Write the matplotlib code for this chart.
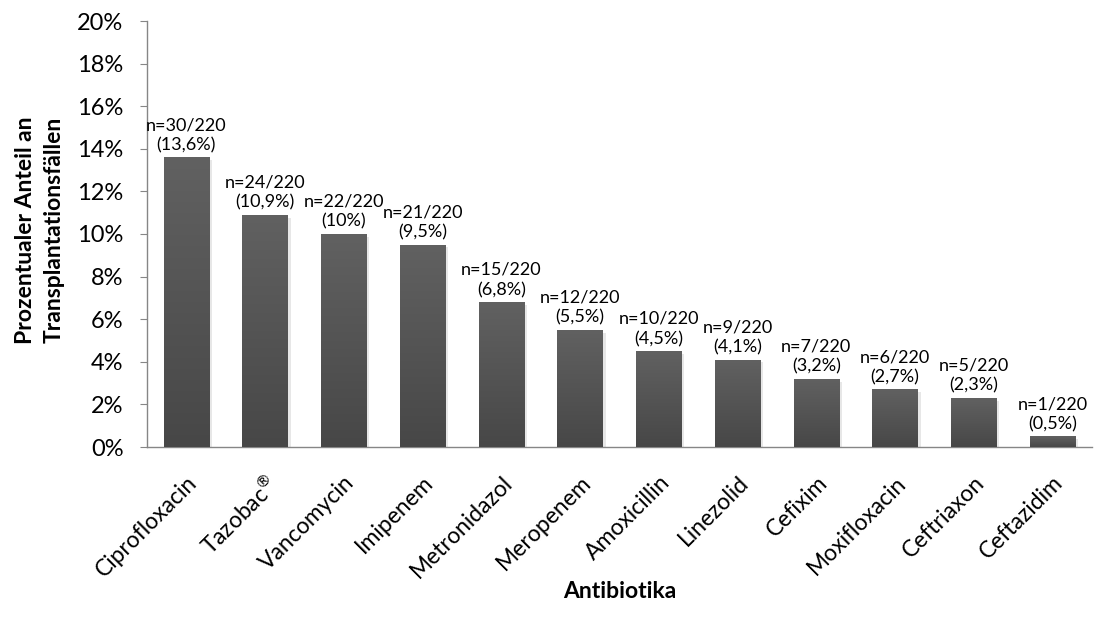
import matplotlib
matplotlib.use("Agg")
import matplotlib.pyplot as plt
import numpy as np
from matplotlib import patheffects
from matplotlib.ticker import FuncFormatter, MultipleLocator

plt.rcParams['font.family'] = ['Lato', 'DejaVu Sans']
plt.rcParams['mathtext.fontset'] = 'custom'
plt.rcParams['mathtext.rm'] = 'Lato'

antibiotics = ["Ciprofloxacin", "Tazobac$^{\\mathrm{®}}$", "Vancomycin", "Imipenem", "Metronidazol",
               "Meropenem", "Amoxicillin", "Linezolid", "Cefixim", "Moxifloxacin",
               "Ceftriaxon", "Ceftazidim"]
counts = [30, 24, 22, 21, 15, 12, 10, 9, 7, 6, 5, 1]
total = 220
percent = [13.6, 10.9, 10.0, 9.5, 6.8, 5.5, 4.5, 4.1, 3.2, 2.7, 2.3, 0.5]
percent_labels = ["13,6%", "10,9%", "10%", "9,5%", "6,8%", "5,5%", "4,5%", "4,1%",
                  "3,2%", "2,7%", "2,3%", "0,5%"]

fig = plt.figure(figsize=(10.97, 6.29), dpi=100)
ax = fig.add_axes([147 / 1097, 1 - 447 / 629, (1092 - 147) / 1097, (447 - 21) / 629])

x = np.arange(len(antibiotics))
values = np.array(percent) / 100.0
bars = ax.bar(x, values, width=0.58, color="#525252", zorder=2,
              path_effects=[patheffects.SimplePatchShadow(offset=(2, -2), shadow_rgbFace="#d0d0d0", alpha=0.5),
                            patheffects.Normal()])

# vertical gray gradient inside each bar
grad = np.linspace(0, 1, 256).reshape(-1, 1)
cmap = matplotlib.colors.LinearSegmentedColormap.from_list("g", ["#474747", "#616161"])
for b in bars:
    x0, y0 = b.get_x(), b.get_y()
    w, h = b.get_width(), b.get_height()
    im = ax.imshow(grad, cmap=cmap, aspect="auto", origin="lower",
                   extent=(x0, x0 + w, y0, y0 + h), zorder=3)
    im.set_clip_path(b)

for xi, v, c, p in zip(x, values, counts, percent_labels):
    ax.annotate(f"n={c}/{total}\n({p})", (xi, v), xytext=(0, 3), textcoords="offset points",
                ha="center", va="bottom", fontsize=13, linespacing=1.3, color="#000000")

ax.set_xlim(-0.5, len(antibiotics) - 0.5)
ax.set_ylim(0, 0.20)
ax.yaxis.set_major_locator(MultipleLocator(0.02))
ax.yaxis.set_major_formatter(FuncFormatter(lambda v, _: f"{v * 100:.0f}%"))

ax.set_xticks(x)
ax.set_xticklabels(antibiotics, rotation=45, ha="right", rotation_mode="anchor", fontsize=16.5)
for lbl in ax.get_xticklabels():
    lbl.set_transform(lbl.get_transform() +
                      matplotlib.transforms.ScaledTranslation(3 / 100, 0, fig.dpi_scale_trans))
ax.tick_params(axis="x", length=0, pad=18)
ax.tick_params(axis="y", length=5, color="#868686", labelsize=17, pad=12, direction="out")

for s in ("top", "right"):
    ax.spines[s].set_visible(False)
for s in ("left", "bottom"):
    ax.spines[s].set_color("#868686")
    ax.spines[s].set_linewidth(1.0)

fig.text(620 / 1097, 1 - 592 / 629, "Antibiotika", ha="center", va="center",
         fontsize=16.5, fontweight="bold")
fig.text(40 / 1097, 1 - 230 / 629, "Prozentualer Anteil an\nTransplantationsfällen",
         ha="center", va="center", rotation=90, fontsize=16.5, fontweight="bold", linespacing=1.45)

fig.savefig("out.png", dpi=100)
